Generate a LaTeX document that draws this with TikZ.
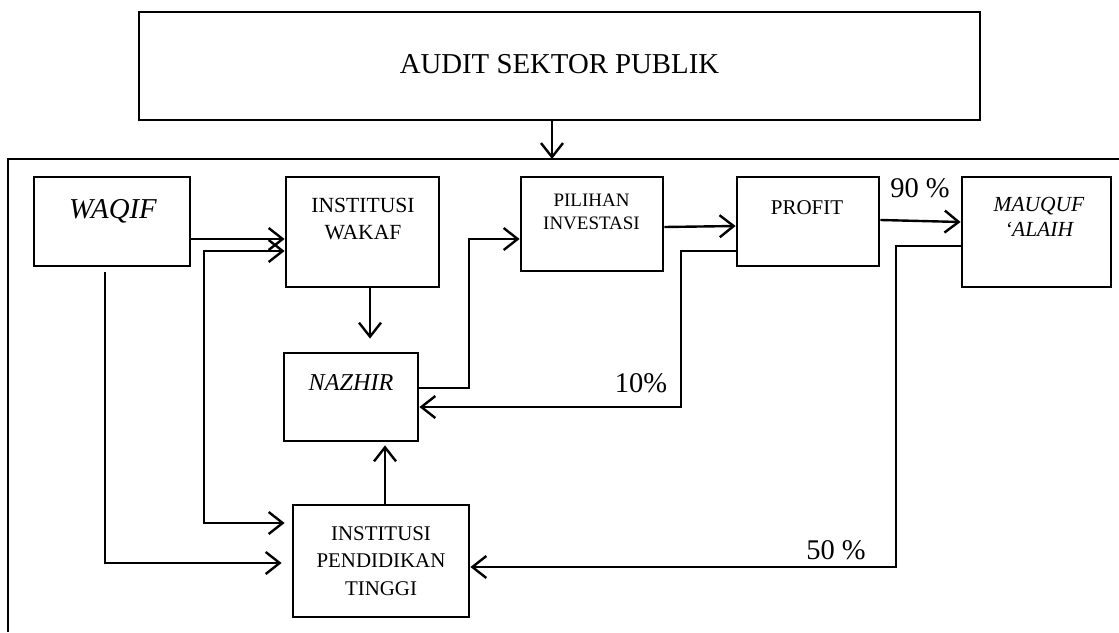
\documentclass[tikz,border=0pt]{standalone}
\usepackage{fontspec}
\setmainfont{Liberation Serif}
\usetikzlibrary{arrows.meta}
\newcommand{\fs}[2]{\fontsize{#1}{#2}\selectfont}
\begin{document}
\begin{tikzpicture}[x=1pt,y=-1pt,
  box/.style={draw,line width=2.8pt,rectangle,inner sep=0pt},
  conn/.style={line width=2.4pt},
  arr/.style={conn,-{Straight Barb[length=14pt,width=22pt]}},
  arrb/.style={conn,{Straight Barb[length=14pt,width=22pt]}-{Straight Barb[length=14pt,width=22pt]}},
  txt/.style={inner sep=0pt,align=center},
  lbl/.style={inner sep=0pt,font=\fs{28.5}{32}}
]
\useasboundingbox (0,0) rectangle (1119,632);

% outer frame
\draw[line width=2.6pt] (1119,159) -- (8,159) -- (8,632);

% boxes
\node[box,minimum width=841pt,minimum height=108pt] (audit) at (559.5,66) {};
\node[box,minimum width=156pt,minimum height=89pt] (waqif) at (112,221.5) {};
\node[box,minimum width=153pt,minimum height=110pt] (iw) at (362.5,232) {};
\node[box,minimum width=142pt,minimum height=94pt] (pil) at (592,224) {};
\node[box,minimum width=142pt,minimum height=89pt] (profit) at (808,221.5) {};
\node[box,minimum width=149pt,minimum height=110pt] (mauquf) at (1036.5,232) {};
\node[box,minimum width=134pt,minimum height=88pt] (nazhir) at (351,397) {};
\node[box,minimum width=176pt,minimum height=112pt] (ipt) at (381,561) {};

% texts
\node[txt,anchor=base,font=\fs{28.8}{32}] (auditT) at (559.5,73) {AUDIT SEKTOR PUBLIK};
\node[txt,anchor=base,font=\fs{28.8}{32}\itshape] (waqifT) at (113,218) {WAQIF};
\node[txt,anchor=north,font=\fs{21.6}{27}] (iwT) at (363,197.5) {INSTITUSI\\WAKAF};
\node[txt,anchor=north,font=\fs{19}{23}] (pilT) at (591.5,194.2) {PILIHAN\\INVESTASI};
\node[txt,anchor=base,font=\fs{21}{25}] (profitT) at (807,214) {PROFIT};
\node[txt,anchor=north,font=\fs{21.5}{25}\itshape] (mauqufT) at (1039,197.5) {MAUQUF\\‘ALAIH};
\node[txt,anchor=base,font=\fs{24.2}{28}\itshape] (nazhirT) at (351,390) {NAZHIR};
\node[txt,anchor=north,font=\fs{20.9}{27.5}] (iptT) at (381,526) {INSTITUSI\\PENDIDIKAN\\TINGGI};

% labels
\node[lbl] (l90) at (920,188) {90 \%};
\node[lbl] (l10) at (641,383) {10\%};
\node[lbl] (l50) at (836,550) {50 \%};

% connectors
\coordinate (ft) at (552,159);
\draw[arr] (audit.south -| ft) -- (ft);

\draw[arr] (waqif.east |- 0,239) -- (iw.west |- 0,239);
\draw[arrb] (iw.west |- 0,251) -- (204,251) -- (204,523) -- ([xshift=-7pt]ipt.west |- 0,523);
\draw[arr,shorten <=5pt] (waqif.south -| 105,0) -- (105,563) -- ([xshift=-10pt]ipt.west |- 0,563);
\draw[arr,shorten >=13pt] (iw.south -| 370,0) -- (nazhir.north -| 370,0);
\draw[arr] (nazhir.east |- 0,388) -- (469,388) -- (469,239) -- (pil.west |- 0,239);
\draw[arr] (pil.east |- 0,227) -- (profit.west |- 0,226);
\draw[arr] (profit.east |- 0,220) -- (mauquf.west |- 0,222);
\draw[arr] (profit.west |- 0,251) -- (681,251) -- (681,407) -- (nazhir.east |- 0,407);
\draw[arr] (mauquf.west |- 0,246) -- (896,246) -- (896,567) -- (ipt.east |- 0,567);
\draw[arr,shorten >=3pt] (ipt.north -| 385,0) -- (nazhir.south -| 385,0);
\end{tikzpicture}
\end{document}
